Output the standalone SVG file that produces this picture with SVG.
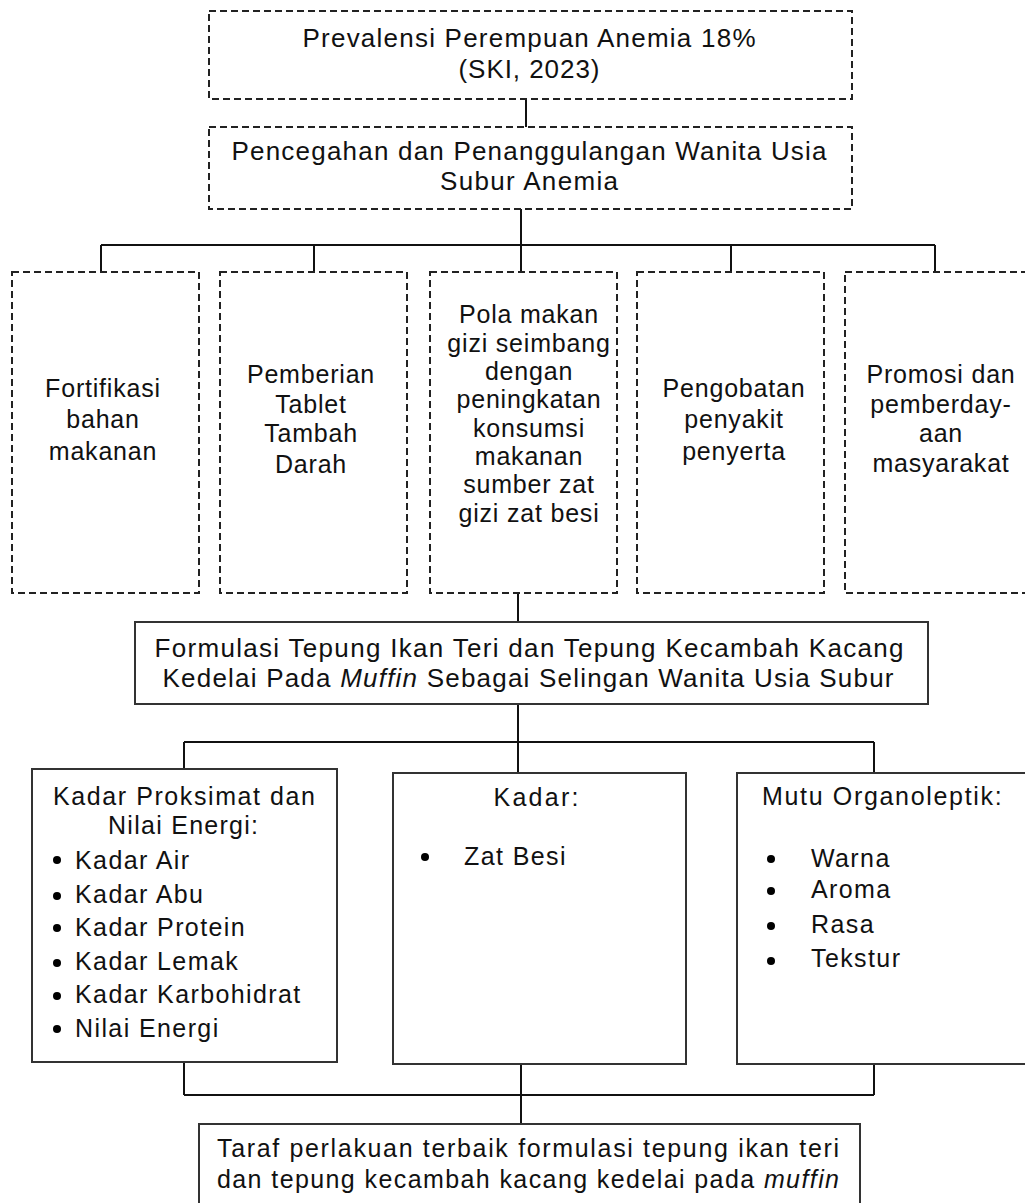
<svg xmlns="http://www.w3.org/2000/svg" width="1025" height="1203" viewBox="0 0 1025 1203">
<style>
  .dash { fill: #fff; stroke: #222; stroke-width: 2; stroke-dasharray: 7 4; }
  .solid { fill: #fff; stroke: #333; stroke-width: 2; }
  .conn { fill: none; stroke: #111; stroke-width: 2; }
  text { font-family: "Liberation Sans", Arial, sans-serif; fill: #111; }
  .t26 { font-size: 26px; text-anchor: middle; }
  .t25m { font-size: 25px; text-anchor: middle; }
  .t24c { font-size: 25px; text-anchor: middle; letter-spacing: 0.8px; }
  .t24 { font-size: 25px; letter-spacing: 1.4px; }
  .bul { fill: #000; }
</style>
<rect width="1025" height="1203" fill="#fff"/>

<g id="connectors">
  <line class="conn" x1="526" y1="99" x2="526" y2="127"/>
  <line class="conn" x1="521" y1="209" x2="521" y2="245"/>
  <line class="conn" x1="101" y1="245" x2="935" y2="245"/>
  <line class="conn" x1="101" y1="245" x2="101" y2="272"/>
  <line class="conn" x1="314" y1="245" x2="314" y2="272"/>
  <line class="conn" x1="521" y1="245" x2="521" y2="272"/>
  <line class="conn" x1="731" y1="245" x2="731" y2="272"/>
  <line class="conn" x1="935" y1="245" x2="935" y2="272"/>
  <line class="conn" x1="518" y1="593" x2="518" y2="622"/>
  <line class="conn" x1="518" y1="704" x2="518" y2="773"/>
  <line class="conn" x1="184" y1="742" x2="874" y2="742"/>
  <line class="conn" x1="184" y1="742" x2="184" y2="769"/>
  <line class="conn" x1="874" y1="742" x2="874" y2="773"/>
  <line class="conn" x1="184" y1="1062" x2="184" y2="1095"/>
  <line class="conn" x1="874" y1="1064" x2="874" y2="1095"/>
  <line class="conn" x1="184" y1="1095" x2="874" y2="1095"/>
  <line class="conn" x1="521" y1="1064" x2="521" y2="1124"/>
</g>

<g id="node-prevalensi">
  <rect class="dash" x="209" y="11" width="643" height="88"/>
  <text class="t26" x="529" y="47" textLength="453" lengthAdjust="spacing">Prevalensi Perempuan Anemia 18%</text>
  <text class="t26" x="529" y="78" textLength="141" lengthAdjust="spacing">(SKI, 2023)</text>
</g>

<g id="node-pencegahan">
  <rect class="dash" x="209" y="127" width="643" height="82"/>
  <text class="t26" x="529" y="160" textLength="595" lengthAdjust="spacing">Pencegahan dan Penanggulangan Wanita Usia</text>
  <text class="t26" x="529" y="190" textLength="178" lengthAdjust="spacing">Subur Anemia</text>
</g>

<g id="node-fortifikasi">
  <rect class="dash" x="12" y="272" width="187" height="321"/>
  <text class="t24c" x="103" y="397">Fortifikasi</text>
  <text class="t24c" x="103" y="428">bahan</text>
  <text class="t24c" x="103" y="460">makanan</text>
</g>

<g id="node-ttd">
  <rect class="dash" x="220" y="272" width="187" height="321"/>
  <text class="t24c" x="311" y="383">Pemberian</text>
  <text class="t24c" x="311" y="413">Tablet</text>
  <text class="t24c" x="311" y="442">Tambah</text>
  <text class="t24c" x="311" y="473">Darah</text>
</g>

<g id="node-polamakan">
  <rect class="dash" x="430" y="272" width="187" height="321"/>
  <text class="t24c" x="529" y="323">Pola makan</text>
  <text class="t24c" x="529" y="352">gizi seimbang</text>
  <text class="t24c" x="529" y="380">dengan</text>
  <text class="t24c" x="529" y="408">peningkatan</text>
  <text class="t24c" x="529" y="437">konsumsi</text>
  <text class="t24c" x="529" y="465">makanan</text>
  <text class="t24c" x="529" y="493">sumber zat</text>
  <text class="t24c" x="529" y="522">gizi zat besi</text>
</g>

<g id="node-pengobatan">
  <rect class="dash" x="637" y="272" width="187" height="321"/>
  <text class="t24c" x="734" y="397">Pengobatan</text>
  <text class="t24c" x="734" y="428">penyakit</text>
  <text class="t24c" x="734" y="460">penyerta</text>
</g>

<g id="node-promosi">
  <rect class="dash" x="845" y="272" width="190" height="321"/>
  <text class="t24c" x="941" y="383">Promosi dan</text>
  <text class="t24c" x="941" y="413">pemberday-</text>
  <text class="t24c" x="941" y="442">aan</text>
  <text class="t24c" x="941" y="472">masyarakat</text>
</g>

<g id="node-formulasi">
  <rect class="solid" x="135" y="622" width="793" height="82"/>
  <text class="t26" x="529" y="657" textLength="749" lengthAdjust="spacing">Formulasi Tepung Ikan Teri dan Tepung Kecambah Kacang</text>
  <text class="t26" x="528" y="687" textLength="731" lengthAdjust="spacing">Kedelai Pada <tspan font-style="italic">Muffin</tspan> Sebagai Selingan Wanita Usia Subur</text>
</g>

<g id="node-proksimat">
  <rect class="solid" x="32" y="769" width="305" height="293"/>
  <text class="t25m" x="184" y="805" textLength="262" lengthAdjust="spacing">Kadar Proksimat dan</text>
  <text class="t25m" x="183" y="834" textLength="150" lengthAdjust="spacing">Nilai Energi:</text>
  <circle class="bul" cx="57" cy="860" r="4"/>
  <text class="t24" x="75" y="869">Kadar Air</text>
  <circle class="bul" cx="57" cy="896" r="4"/>
  <text class="t24" x="75" y="903">Kadar Abu</text>
  <circle class="bul" cx="57" cy="928" r="4"/>
  <text class="t24" x="75" y="936">Kadar Protein</text>
  <circle class="bul" cx="57" cy="963" r="4"/>
  <text class="t24" x="75" y="970">Kadar Lemak</text>
  <circle class="bul" cx="57" cy="996" r="4"/>
  <text class="t24" x="75" y="1003">Kadar Karbohidrat</text>
  <circle class="bul" cx="57" cy="1029" r="4"/>
  <text class="t24" x="75" y="1037">Nilai Energi</text>
</g>

<g id="node-kadar">
  <rect class="solid" x="393" y="773" width="293" height="291"/>
  <text class="t25m" x="536" y="806" textLength="85" lengthAdjust="spacing">Kadar:</text>
  <circle class="bul" cx="425" cy="857" r="4"/>
  <text class="t24" x="464" y="865">Zat Besi</text>
</g>

<g id="node-organoleptik">
  <rect class="solid" x="737" y="773" width="300" height="291"/>
  <text class="t24" x="762" y="805" textLength="241" lengthAdjust="spacing">Mutu Organoleptik:</text>
  <circle class="bul" cx="771" cy="859" r="4"/>
  <text class="t24" x="811" y="867">Warna</text>
  <circle class="bul" cx="771" cy="891" r="4"/>
  <text class="t24" x="811" y="898">Aroma</text>
  <circle class="bul" cx="771" cy="926" r="4"/>
  <text class="t24" x="811" y="933">Rasa</text>
  <circle class="bul" cx="771" cy="961" r="4"/>
  <text class="t24" x="811" y="967">Tekstur</text>
</g>

<g id="node-taraf">
  <rect class="solid" x="199" y="1124" width="661" height="100"/>
  <text class="t25m" x="528" y="1157" textLength="622" lengthAdjust="spacing">Taraf perlakuan terbaik formulasi tepung ikan teri</text>
  <text class="t25m" x="528" y="1188" textLength="622" lengthAdjust="spacing">dan tepung kecambah kacang kedelai pada <tspan font-style="italic">muffin</tspan></text>
</g>
</svg>
